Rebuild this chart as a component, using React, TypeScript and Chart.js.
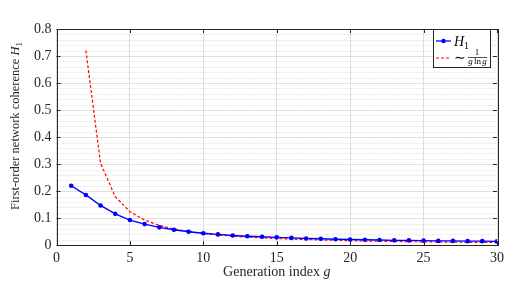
import React, { useEffect, useRef } from "react";
import { Chart, registerables } from "chart.js";
Chart.register(...registerables);

const generations = [1, 2, 3, 4, 5, 6, 7, 8, 9, 10, 11, 12, 13, 14, 15, 16, 17, 18, 19, 20, 21, 22, 23, 24, 25, 26, 27, 28, 29, 30];
const coherenceH1 = [0.22, 0.186, 0.147, 0.116, 0.093, 0.078, 0.066, 0.057, 0.05, 0.044, 0.04, 0.036, 0.033, 0.031, 0.029, 0.027, 0.025, 0.024, 0.022, 0.021, 0.02, 0.019, 0.018, 0.018, 0.017, 0.016, 0.016, 0.015, 0.015, 0.014];
const approxGenerations = [2, 3, 4, 5, 6, 7, 8, 9, 10, 11, 12, 13, 14, 15, 16, 17, 18, 19, 20, 21, 22, 23, 24, 25, 26, 27, 28, 29, 30];
const approxValues = [0.721, 0.303, 0.18, 0.124, 0.093, 0.0734, 0.0601, 0.0506, 0.0434, 0.0379, 0.0335, 0.03, 0.0271, 0.0246, 0.0225, 0.0208, 0.0192, 0.0179, 0.0167, 0.0156, 0.0147, 0.0139, 0.0131, 0.0124, 0.0118, 0.0112, 0.0107, 0.0102, 0.0098];
const xTickValues = [0, 5, 10, 15, 20, 25, 30];
const yTickValues = [0, 0.1, 0.2, 0.3, 0.4, 0.5, 0.6, 0.7, 0.8];
const yMinorStep = 0.02;
const xTitle = "Generation index ";
const xTitleVar = "g";
const yTitle = "First-order network coherence ";
const yTitleVar = "H";
const yTitleSub = "1";

const FONT = "'Liberation Serif', 'DejaVu Serif', serif";
const TEXT = "#262626";

const framePlugin = {
  id: "frame",
  beforeDatasetsDraw(chart: any) {
    const { ctx, chartArea: a, scales } = chart;
    const y = scales.y;
    ctx.save();
    ctx.strokeStyle = "rgba(0,0,0,0.16)";
    ctx.lineWidth = 1;
    ctx.setLineDash([1, 2]);
    for (let i = 1; i < 40; i++) {
      if (i % 5 === 0) continue;
      const py = Math.round(y.getPixelForValue(i * yMinorStep)) + 0.5;
      ctx.beginPath();
      ctx.moveTo(a.left, py);
      ctx.lineTo(a.right, py);
      ctx.stroke();
    }
    ctx.restore();
  },
  afterDraw(chart: any) {
    const { ctx, chartArea: a, scales } = chart;
    const x = scales.x;
    const y = scales.y;
    ctx.save();
    ctx.strokeStyle = TEXT;
    ctx.lineWidth = 1;
    ctx.setLineDash([]);
    ctx.strokeRect(Math.round(a.left) + 0.5, Math.round(a.top) + 0.5, Math.round(a.right - a.left), Math.round(a.bottom - a.top));
    const L = 4;
    for (const v of xTickValues) {
      const px = Math.round(x.getPixelForValue(v)) + 0.5;
      ctx.beginPath();
      ctx.moveTo(px, a.bottom);
      ctx.lineTo(px, a.bottom - L);
      ctx.moveTo(px, a.top);
      ctx.lineTo(px, a.top + L);
      ctx.stroke();
    }
    for (const v of yTickValues) {
      const py = Math.round(y.getPixelForValue(v)) + 0.5;
      ctx.beginPath();
      ctx.moveTo(a.left, py);
      ctx.lineTo(a.left + L, py);
      ctx.moveTo(a.right, py);
      ctx.lineTo(a.right - L, py);
      ctx.stroke();
    }

    // axis titles
    ctx.fillStyle = TEXT;
    ctx.textBaseline = "alphabetic";
    ctx.textAlign = "left";
    ctx.font = "14px " + FONT;
    const w1 = ctx.measureText(xTitle).width;
    ctx.font = "italic 14px " + FONT;
    const w2 = ctx.measureText(xTitleVar).width;
    const cx = (a.left + a.right) / 2;
    let sx = cx - (w1 + w2) / 2;
    ctx.font = "14px " + FONT;
    ctx.fillText(xTitle, sx, 276);
    ctx.font = "italic 14px " + FONT;
    ctx.fillText(xTitleVar, sx + w1, 276);

    ctx.save();
    ctx.translate(19, 126);
    ctx.rotate(-Math.PI / 2);
    ctx.font = "12.5px " + FONT;
    const t1 = ctx.measureText(yTitle).width;
    ctx.font = "italic 12.5px " + FONT;
    const t2 = ctx.measureText(yTitleVar).width;
    ctx.font = "9px " + FONT;
    const t3 = ctx.measureText(yTitleSub).width;
    let ty = -(t1 + t2 + t3) / 2;
    ctx.font = "12.5px " + FONT;
    ctx.fillText(yTitle, ty, 0);
    ctx.font = "italic 12.5px " + FONT;
    ctx.fillText(yTitleVar, ty + t1, 0);
    ctx.font = "9px " + FONT;
    ctx.fillText(yTitleSub, ty + t1 + t2, 3);
    ctx.restore();

    // legend
    const bx = 433.5, by = 29.5, bw = 57, bh = 38;
    ctx.fillStyle = "#fff";
    ctx.fillRect(bx, by, bw, bh);
    ctx.strokeStyle = TEXT;
    ctx.strokeRect(bx, by, bw, bh);
    ctx.strokeStyle = "#0000ff";
    ctx.lineWidth = 1.3;
    ctx.beginPath();
    ctx.moveTo(436, 41);
    ctx.lineTo(451, 41);
    ctx.stroke();
    ctx.fillStyle = "#0000ff";
    ctx.beginPath();
    ctx.arc(443.5, 41, 2.2, 0, Math.PI * 2);
    ctx.fill();
    ctx.fillStyle = "#000";
    ctx.font = "italic 14px " + FONT;
    ctx.textAlign = "left";
    ctx.fillText("H", 454, 46);
    ctx.font = "10px " + FONT;
    ctx.fillText("1", 464, 49);
    ctx.strokeStyle = "#ff0000";
    ctx.lineWidth = 1.2;
    ctx.setLineDash([3, 2]);
    ctx.beginPath();
    ctx.moveTo(436, 58);
    ctx.lineTo(451, 58);
    ctx.stroke();
    ctx.setLineDash([]);
    ctx.fillStyle = "#000";
    ctx.font = "14px " + FONT;
    ctx.fillText("\u223C", 454, 62);
    ctx.textAlign = "center";
    ctx.font = "9px " + FONT;
    ctx.fillText("1", 477, 55);
    ctx.strokeStyle = "#000";
    ctx.lineWidth = 0.7;
    ctx.beginPath();
    ctx.moveTo(468, 57.5);
    ctx.lineTo(487, 57.5);
    ctx.stroke();
    ctx.font = "italic 9px " + FONT;
    ctx.fillText("g", 470.5, 64);
    ctx.font = "9px " + FONT;
    ctx.fillText("ln", 477.5, 64);
    ctx.font = "italic 9px " + FONT;
    ctx.fillText("g", 484.5, 64);
    ctx.restore();
  },
};

export default function App() {
  const ref = useRef<HTMLCanvasElement | null>(null);
  useEffect(() => {
    document.body.style.margin = "0";
    const canvas = ref.current!;
    const chart = new Chart(canvas, {
      type: "line",
      data: {
        datasets: [
          {
            label: "H1",
            data: generations.map((g, i) => ({ x: g, y: coherenceH1[i] })),
            borderColor: "#0000ff",
            backgroundColor: "#0000ff",
            borderWidth: 1.4,
            pointRadius: 2.3,
            pointBorderWidth: 0,
            tension: 0,
          },
          {
            label: "approx",
            data: approxGenerations.map((g, i) => ({ x: g, y: approxValues[i] })),
            borderColor: "#ff0000",
            borderWidth: 1.2,
            borderDash: [3, 2],
            pointRadius: 0,
            tension: 0,
          },
        ],
      },
      options: {
        animation: false,
        responsive: false,
        maintainAspectRatio: false,
        layout: { padding: { left: 29, right: 18, top: 29, bottom: 15 } },
        plugins: { legend: { display: false }, tooltip: { enabled: false } },
        scales: {
          x: {
            type: "linear",
            min: 0,
            max: 30,
            afterBuildTicks: (s: any) => {
              s.ticks = xTickValues.map((v) => ({ value: v }));
            },
            ticks: { color: TEXT, font: { family: FONT, size: 14 }, padding: 5, maxRotation: 0 },
            grid: { color: "#e0e0e0", drawTicks: false },
            border: { display: false },
          },
          y: {
            type: "linear",
            min: 0,
            max: 0.8,
            afterBuildTicks: (s: any) => {
              s.ticks = yTickValues.map((v) => ({ value: v }));
            },
            ticks: {
              color: TEXT,
              font: { family: FONT, size: 14 },
              padding: 5,
              callback: (v: any) => String(Math.round(Number(v) * 10) / 10),
            },
            grid: { color: "#e0e0e0", drawTicks: false },
            border: { display: false },
          },
        },
      },
      plugins: [framePlugin],
    } as any);
    return () => chart.destroy();
  }, []);
  return (
    <div style={{ width: 515, height: 287, background: "#fff" }}>
      <canvas ref={ref} width={515} height={287} style={{ display: "block" }} />
    </div>
  );
}
